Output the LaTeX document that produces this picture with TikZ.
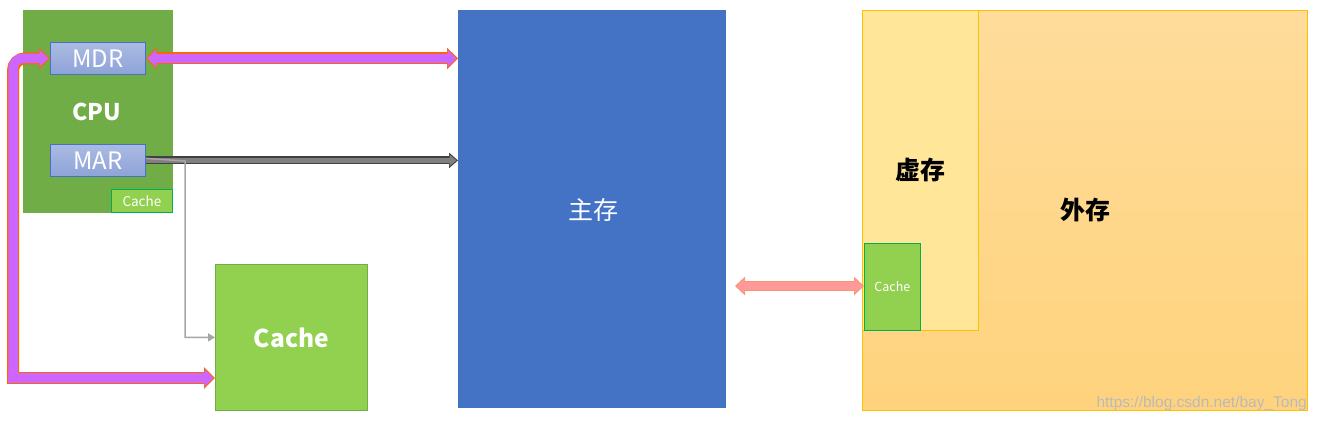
\documentclass[tikz,border=0pt]{standalone}
\usepackage{fontspec}
\setmainfont{Noto Sans CJK SC}
\newfontfamily\wmfont{Liberation Sans}
\usetikzlibrary{arrows.meta}
\definecolor{cpugreen}{RGB}{112,173,71}
\definecolor{lgreen}{RGB}{146,208,80}
\definecolor{dgreen}{RGB}{0,176,80}
\definecolor{mainblue}{RGB}{68,114,196}
\definecolor{regtop}{RGB}{170,186,226}
\definecolor{regbot}{RGB}{142,163,216}
\definecolor{vmyel}{RGB}{255,230,153}
\definecolor{outtop}{RGB}{255,220,155}
\definecolor{outbot}{RGB}{255,211,125}
\definecolor{gold}{RGB}{255,192,0}
\definecolor{purp}{RGB}{204,102,255}
\definecolor{orng}{RGB}{255,102,0}
\definecolor{salmon}{RGB}{255,153,153}
\definecolor{salout}{RGB}{244,150,110}
\definecolor{thingray}{RGB}{166,166,166}
\tikzset{
  box/.style={anchor=north west, inner sep=0pt, text=white},
  regbox/.style={box, draw=mainblue, line width=0.8pt, top color=regtop, bottom color=regbot, minimum width=95pt, minimum height=32pt, font=\fontsize{24}{24}\selectfont},
  smallcache/.style={box, fill=lgreen, draw=dgreen, line width=0.8pt, font=\fontsize{13.5}{14}\selectfont},
  bigtxt/.style={font=\fontsize{24.5}{25}\selectfont\bfseries},
}
\begin{document}
\begin{tikzpicture}[x=1pt,y=-1pt]
\useasboundingbox (0,0) rectangle (1317,423);
\fill[white] (0,0) rectangle (1317,423);
% CPU
\node[box, fill=cpugreen, minimum width=150pt, minimum height=203pt] (cpu) at (23,10) {};
\node[text=white, font=\fontsize{23}{23}\selectfont\bfseries] (cpulbl) at (97,112) {CPU};
\node[regbox] (mdr) at (50,42) {MDR};
\node[regbox] (mar) at (50,144) {MAR};
\node[smallcache, minimum width=61pt, minimum height=23pt] (ccache) at (111,189) {Cache};
% main memory
\node[box, fill=mainblue, minimum width=268pt, minimum height=398pt] (main) at (458,10) {};
\node[text=white, font=\fontsize{25}{25}\selectfont] (mainlbl) at (593,210) {主存};
% cache
\node[box, fill=lgreen, draw=cpugreen, line width=0.8pt, minimum width=152pt, minimum height=146pt, bigtxt] (cache) at (215,264) {Cache};
% external storage
\node[box, draw=gold, line width=0.8pt, top color=outtop, bottom color=outbot, minimum width=445pt, minimum height=400pt] (ext) at (862,10) {};
\node[text=black, font=\fontsize{25}{25}\selectfont\bfseries] (extlbl) at (1085,210) {外存};
\node[box, fill=vmyel, draw=gold, line width=0.8pt, minimum width=116pt, minimum height=320pt] (vm) at (862,10) {};
\node[text=black, font=\fontsize{25}{25}\selectfont\bfseries] (vmlbl) at (920,170) {虚存};
\node[smallcache, minimum width=56pt, minimum height=87pt, font=\fontsize{12.5}{13}\selectfont] (vcache) at (864,243) {Cache};
% watermark
\node[anchor=south east, inner sep=0pt, text=black!27, font=\wmfont\fontsize{15.5}{15}\selectfont] (wm) at (1307,411) {https://blog.csdn.net/bay\_Tong};
% coordinates
\coordinate (bl) at (8,378);
\coordinate (vb) at (13,378);
\coordinate (va) at (735,286);
% purple arrows: outline
\draw[orng, line width=12pt, {Triangle[length=11pt,width=21pt]}-{Triangle[length=11pt,width=21pt]}] (mdr.east) -- (main.west |- mdr.east);
\draw[orng, line width=12pt, rounded corners=12pt, -{Triangle[length=11pt,width=21pt]}] (vb) -- (vb |- mdr.west) -- (mdr.west);
\draw[orng, line width=12pt, -{Triangle[length=11pt,width=21pt]}] ([xshift=-1pt]bl) -- (bl -| cache.west);
% purple arrows: fill
\draw[purp, line width=9.5pt, shorten <=1.5pt, shorten >=1.5pt, {Triangle[length=9pt,width=17pt]}-{Triangle[length=9pt,width=17pt]}] (mdr.east) -- (main.west |- mdr.east);
\draw[purp, line width=9.5pt, rounded corners=10pt, shorten >=1.5pt, -{Triangle[length=9pt,width=17pt]}] ([yshift=-1.5pt]vb) -- (vb |- mdr.west) -- (mdr.west);
\draw[purp, line width=9.5pt, shorten >=1.5pt, -{Triangle[length=9pt,width=17pt]}] (bl) -- (bl -| cache.west);
% MAR to main
\draw[black!75, line width=8pt, -{Triangle[length=9pt,width=15pt]}] (mar.east) -- (main.west |- mar.east);
\draw[black!50, line width=5.5pt, shorten >=1.5pt, -{Triangle[length=7pt,width=11pt]}] (mar.east) -- (main.west |- mar.east);
% MAR to cache thin line
\coordinate (tj) at (185,161);
\draw[thingray, line width=1.5pt, -{Triangle[length=7pt,width=8pt]}] ([yshift=2pt]mar.east) -- (tj) -- (tj |- cache.west) -- (cache.west);
% salmon arrows
\draw[salout, line width=6pt, {Triangle[length=7pt,width=12pt]}-{Triangle[length=7pt,width=12pt]}] ([yshift=-24pt]cache.south east) -- ([yshift=-24pt]main.west |- cache.south east);
\draw[salmon, line width=4pt, shorten <=1pt, shorten >=1pt, {Triangle[length=6pt,width=10pt]}-{Triangle[length=6pt,width=10pt]}] ([yshift=-24pt]cache.south east) -- ([yshift=-24pt]main.west |- cache.south east);
\draw[salout, line width=10pt, {Triangle[length=10pt,width=18pt]}-{Triangle[length=10pt,width=18pt]}] (va) -- (va -| vcache.west);
\draw[salmon, line width=7.5pt, shorten <=1.5pt, shorten >=1.5pt, {Triangle[length=8pt,width=15pt]}-{Triangle[length=8pt,width=15pt]}] (va) -- (va -| vcache.west);
\end{tikzpicture}
\end{document}
